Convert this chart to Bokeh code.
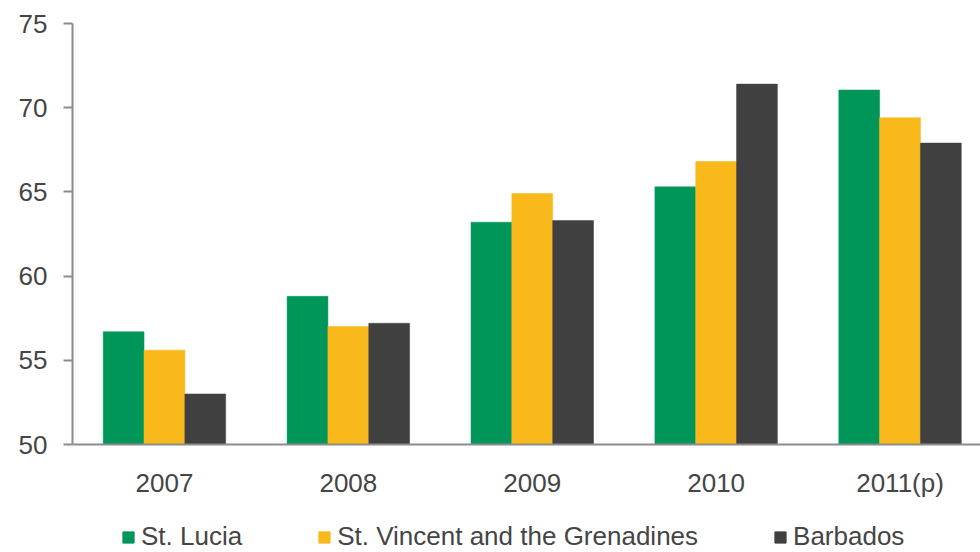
from bokeh.plotting import figure
from bokeh.models import ColumnDataSource, Range1d, FixedTicker, Legend, LegendItem
from bokeh.layouts import column
from bokeh.transform import dodge
from bokeh.embed import file_html
from bokeh.resources import INLINE

years = ["2007", "2008", "2009", "2010", "2011(p)"]
st_lucia = [56.7, 58.8, 63.2, 65.3, 71.05]
st_vincent = [55.6, 57.0, 64.9, 66.8, 69.4]
barbados = [53.0, 57.2, 63.3, 71.4, 67.9]
series_names = ["St. Lucia", "St. Vincent and the Grenadines", "Barbados"]
colors = ["#00965a", "#f9b91a", "#404040"]

xs = list(range(len(years)))
src = ColumnDataSource(dict(x=xs, sl=st_lucia, sv=st_vincent, bb=barbados))

p = figure(width=980, height=500, output_backend="svg", toolbar_location=None,
           x_range=Range1d(-0.5, 4.4375), y_range=Range1d(50, 75),
           min_border_left=72, min_border_right=0, min_border_top=23,
           min_border_bottom=55)
p.outline_line_color = None
p.grid.visible = False

bw = 0.222
for col, off, c in zip(["sl", "sv", "bb"], [-bw, 0, bw], colors):
    p.vbar(x=dodge("x", off, range=p.x_range), top=col, bottom=50, width=bw,
           source=src, fill_color=c, line_color=c, line_width=0.5)

font = "Liberation Sans"
lab_color = "#454545"
axis_color = "#8c8c8c"
fs = "26px"

p.yaxis.ticker = FixedTicker(ticks=[50, 55, 60, 65, 70, 75])
p.yaxis.axis_line_color = axis_color
p.yaxis.axis_line_width = 2
p.yaxis.major_tick_line_color = axis_color
p.yaxis.major_tick_line_width = 2
p.yaxis.major_tick_out = 9
p.yaxis.major_tick_in = 0
p.yaxis.minor_tick_line_color = None
p.yaxis.major_label_standoff = 16
p.yaxis.major_label_text_font = font
p.yaxis.major_label_text_font_size = fs
p.yaxis.major_label_text_color = lab_color

p.xaxis.ticker = FixedTicker(ticks=xs)
p.xaxis.major_label_overrides = {i: y for i, y in enumerate(years)}
p.xaxis.axis_line_color = axis_color
p.xaxis.axis_line_width = 2
p.xaxis.major_tick_line_color = None
p.xaxis.minor_tick_line_color = None
p.xaxis.major_label_standoff = 17
p.xaxis.major_label_text_font = font
p.xaxis.major_label_text_font_size = fs
p.xaxis.major_label_text_color = lab_color

# legend row
lg = figure(width=980, height=52, output_backend="svg", toolbar_location=None,
            x_range=Range1d(0, 1), y_range=Range1d(0, 1),
            x_axis_location=None, y_axis_location=None,
            min_border_left=0, min_border_right=0, min_border_top=0, min_border_bottom=0)
lg.grid.visible = False
lg.outline_line_color = None
dummies = [lg.vbar(x=[5], top=[5], bottom=[4], width=0.1, fill_color=c, line_color=c) for c in colors]
legend = Legend(items=[LegendItem(label=n, renderers=[r]) for n, r in zip(series_names, dummies)],
                orientation="horizontal", location=(49, 0),
                label_text_font=font, label_text_font_size=fs,
                label_text_color=lab_color, glyph_width=14, glyph_height=14,
                spacing=75, label_standoff=6, border_line_color=None,
                background_fill_alpha=0, margin=0, padding=0)
lg.add_layout(legend, "center")

layout = column(p, lg, spacing=0)
open("out.html", "w").write(file_html(layout, INLINE))
